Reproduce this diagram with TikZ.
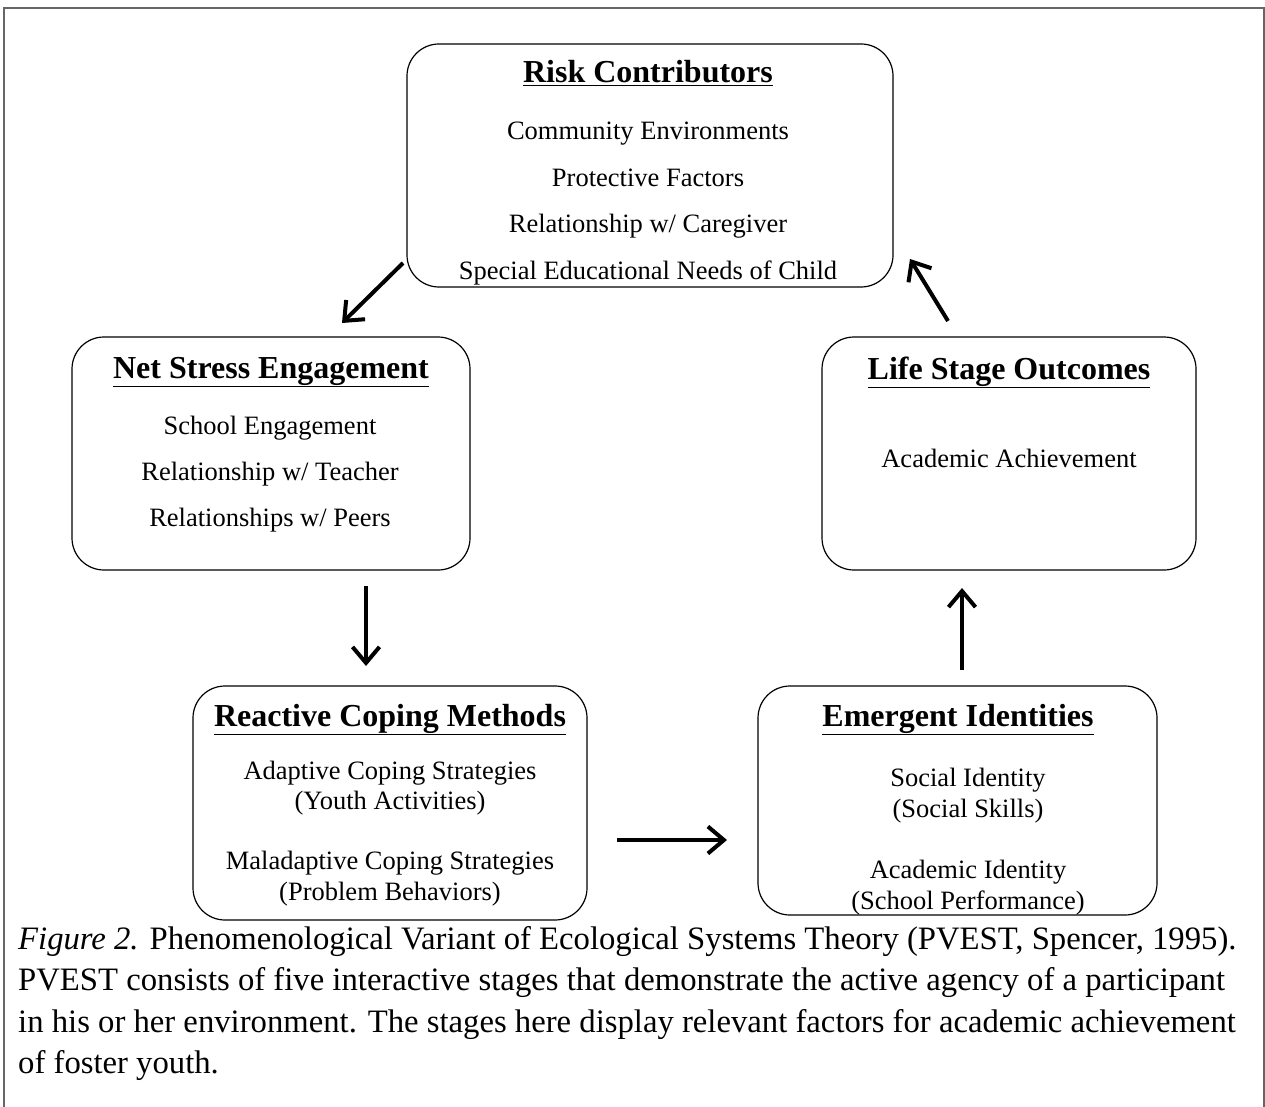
\documentclass[tikz,border=0pt]{standalone}
\usepackage{fontspec}
\setmainfont{Liberation Serif}
\usetikzlibrary{arrows.meta}
\begin{document}
\begin{tikzpicture}[x=1pt,y=-1pt,
  stage/.style={draw=black, line width=1.2pt, rounded corners=32pt, inner sep=0pt},
  head/.style={font=\fontsize{32}{36}\selectfont\bfseries, inner sep=0pt, anchor=base},
  item/.style={font=\fontsize{26.5}{31}\selectfont, inner sep=0pt, anchor=base},
  capline/.style={font=\fontsize{32.7}{40}\selectfont, inner sep=0pt, anchor=base west},
  flow/.style={line width=4pt, -{Straight Barb[length=16pt, width=27pt, line width=4pt]}}
]
\useasboundingbox (0,0) rectangle (1265,1107);
% outer frame (open at the bottom)
\draw[line width=1.3pt, black!60] (4,1110) -- (4,8) -- (1264,8) -- (1264,1110);

% stage boxes
\node[stage, minimum width=486pt, minimum height=243pt] (risk) at (650,165.5) {};
\node[stage, minimum width=398pt, minimum height=233pt] (net) at (271,453.5) {};
\node[stage, minimum width=374pt, minimum height=233pt] (life) at (1009,453.5) {};
\node[stage, minimum width=394pt, minimum height=234pt] (react) at (390,803) {};
\node[stage, minimum width=399pt, minimum height=229pt] (emerg) at (957.5,800.5) {};

% Risk Contributors
\node[head] (riskT) at (648,83) {\underline{Risk Contributors}};
\node[item] (risk1) at (648,140) {Community Environments};
\node[item] (risk2) at (648,187) {Protective Factors};
\node[item] (risk3) at (648,233) {Relationship w/ Caregiver};
\node[item] (risk4) at (648,279) {Special Educational Needs of Child};

% Net Stress Engagement
\node[head] (netT) at (271,378) {\underline{Net Stress Engagement}};
\node[item] (net1) at (270,434) {School Engagement};
\node[item] (net2) at (270,480) {Relationship w/ Teacher};
\node[item] (net3) at (270,526) {Relationships w/ Peers};

% Life Stage Outcomes
\node[head] (lifeT) at (1009,379) {\underline{Life Stage Outcomes}};
\node[item] (life1) at (1009,467) {Academic Achievement};

% Reactive Coping Methods
\node[head] (reactT) at (390,726) {\underline{Reactive Coping Methods}};
\node[item] (react1a) at (390,779) {Adaptive Coping Strategies};
\node[item] (react1b) at (390,809) {(Youth Activities)};
\node[item] (react2a) at (390,869) {Maladaptive Coping Strategies};
\node[item] (react2b) at (390,900) {(Problem Behaviors)};

% Emergent Identities
\node[head] (emergT) at (958,726) {\underline{Emergent Identities}};
\node[item] (emerg1a) at (968,786) {Social Identity};
\node[item] (emerg1b) at (968,817) {(Social Skills)};
\node[item] (emerg2a) at (968,878) {Academic Identity};
\node[item] (emerg2b) at (968,909) {(School Performance)};

% arrow end points
\coordinate (a1s) at (403,263);
\coordinate (a1e) at (342,323);
\coordinate (a2s) at (366,586);
\coordinate (a2e) at (366,666);
\coordinate (a3s) at (617,840);
\coordinate (a3e) at (727,840);
\coordinate (a4s) at (962,670);
\coordinate (a4e) at (962,588);
\coordinate (a5s) at (948,321);
\coordinate (a5e) at (910,259);

\draw[flow] (a1s) -- (a1e);
\draw[flow] (a2s) -- (a2e);
\draw[flow] (a3s) -- (a3e);
\draw[flow] (a4s) -- (a4e);
\draw[flow] (a5s) -- (a5e);

% caption
\node[capline] (cap1) at (18,949) {\textit{Figure 2.} Phenomenological Variant of Ecological Systems Theory (PVEST, Spencer, 1995).};
\node[capline] (cap2) at (18,990.5) {PVEST consists of five interactive stages that demonstrate the active agency of a participant};
\node[capline] (cap3) at (18,1032) {in his or her environment. The stages here display relevant factors for academic achievement};
\node[capline] (cap4) at (18,1073.5) {of foster youth.};
\end{tikzpicture}
\end{document}
